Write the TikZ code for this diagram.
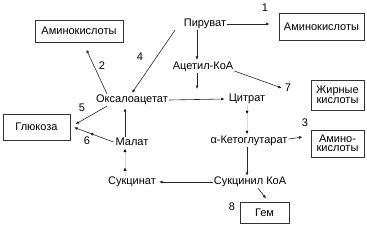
\documentclass[tikz,border=0pt]{standalone}
\usepackage{fontspec}
\setmainfont{Liberation Sans}
\usetikzlibrary{arrows.meta,positioning,decorations.markings}
\tikzset{
  box/.style={draw=black!80, thick, inner sep=2pt, align=center, font=\fontsize{11}{11.5}\selectfont},
  metab/.style={inner sep=1pt, font=\fontsize{11}{11.5}\selectfont},
  num/.style={inner sep=0pt, font=\fontsize{11}{11.5}\selectfont},
  arrow/.style={-{Latex[length=3.5pt,width=3pt]}, semithick, draw=black!85},
  steps/.style={draw=black!15, thin, postaction={decorate},
    decoration={markings,
      mark=at position 0.3 with {\arrow[black]{Latex[length=3pt,width=3pt]}},
      mark=at position 1 with {\arrow[black]{Latex[length=3pt,width=3pt]}}}},
  midarrow/.style={postaction={decorate},
    decoration={markings, mark=at position 0.55 with {\arrow{Latex[length=3.5pt,width=3pt]}}}}
}
\begin{document}
\begin{tikzpicture}[x=1pt, y=-1pt]
  \useasboundingbox (0,0) rectangle (367,233);
  % metabolites
  \node[metab] (pyr) at (205,24) {Пируват};
  \node[metab] (acet) at (203,67) {Ацетил-КоА};
  \node[metab] (oxa) at (132,100) {Оксалоацетат};
  \node[metab] (citr) at (247,99) {Цитрат};
  \node[metab] (keto) at (249,141) {α-Кетоглутарат};
  \node[metab] (succoa) at (250,182) {Сукцинил КоА};
  \node[metab] (succ) at (132,182) {Сукцинат};
  \node[metab] (malat) at (132,142) {Малат};
  % products
  \node[box, minimum width=85pt, minimum height=27pt] (aminoR) at (321.5,26.5) {Аминокислоты};
  \node[box, minimum width=88pt, minimum height=22pt] (aminoL) at (79,31) {Аминокислоты};
  \node[box, minimum width=53pt, minimum height=30pt, inner sep=1pt] (fat) at (337.5,95) {Жирные\\[-2pt]кислоты};
  \node[box, minimum width=53pt, minimum height=27pt, inner sep=1pt] (amino3) at (337.5,143.5) {Амино-\\[-2pt]кислоты};
  \node[box, minimum width=67pt, minimum height=26pt] (glu) at (36.5,127) {Глюкоза};
  \node[box, minimum width=49pt, minimum height=21pt] (gem) at (264.5,212.5) {Гем};
  % numbers
  \node[num] (n1) at (265,8) {1};
  \node[num] (n2) at (102,66) {2};
  \node[num] (n3) at (305,123) {3};
  \node[num] (n4) at (140,57) {4};
  \node[num] (n5) at (82,108) {5};
  \node[num] (n6) at (87,141) {6};
  \node[num] (n7) at (288,88) {7};
  \node[num] (n8) at (232,207) {8};
  \coordinate (join) at (197,98);

  \draw[arrow, shorten >=9pt] (pyr.east) -- (aminoR.west |- pyr.east);
  \draw[arrow] ([xshift=-8pt]pyr.south) -- ([xshift=-6pt,yshift=1pt]acet.north);
  \draw[arrow] ([xshift=-30pt]pyr.south) -- ([yshift=1pt]oxa.north);
  \draw[arrow, shorten >=8pt] ([xshift=-25pt]oxa.north) -- ([xshift=4pt]aminoL.south);
  \draw[arrow, shorten >=6pt] ([xshift=-25pt]oxa.south) -- (glu.east);
  \draw[arrow] (oxa.east) -- ([xshift=-3pt]citr.west);
  \draw[arrow, shorten >=9pt] ([xshift=-6pt]acet.south) -- (join);
  \draw[arrow] ([yshift=-4pt]acet.east) -- ([xshift=-3pt]n7.west);
  \draw[steps] (citr.south) -- ([yshift=1pt]keto.north -| citr.south);
  \draw[arrow] ([yshift=2pt]keto.east) -- ([xshift=-8pt,yshift=6.5pt]amino3.west);
  \draw[arrow] ([xshift=-2pt]keto.south) -- ([xshift=-3pt]succoa.north);
  \draw[arrow] (succoa.west) -- ([xshift=2pt]succ.east);
  \draw[arrow, shorten >=4pt] ([xshift=8pt]succoa.south) -- ([xshift=4pt]gem.north);
  \draw[steps] ([xshift=-7pt]succ.north) -- ([xshift=-7pt,yshift=-2pt]malat.south);
  \draw[arrow] ([xshift=-7pt]malat.north) -- ([xshift=-7pt,yshift=-2pt]oxa.south);
  \draw[arrow, midarrow, shorten >=4pt] ([xshift=-1pt]malat.west) -- ([yshift=1pt]glu.east);
\end{tikzpicture}
\end{document}
